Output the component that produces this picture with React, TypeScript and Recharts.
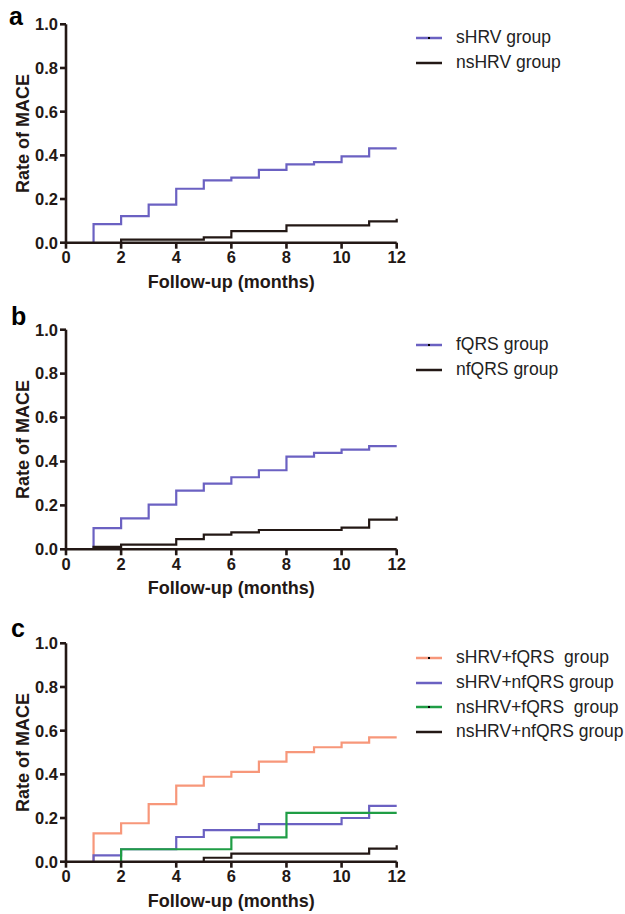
import React from "react";
import { LineChart, Line, XAxis, YAxis, Legend } from "recharts";

// follow-up month of each step (value = cumulative MACE rate from that month on)
const months = [0, 1, 2, 3, 4, 5, 6, 7, 8, 9, 10, 11, 12];

// panel a
const sHRV = [null, 0.085, 0.122, 0.174, 0.247, 0.285, 0.298, 0.333, 0.359, 0.369, 0.395, 0.432, 0.432];
const nsHRV = [null, null, 0.014, 0.014, 0.014, 0.024, 0.053, 0.053, 0.079, 0.079, 0.079, 0.098, 0.11];

// panel b
const fQRS = [null, 0.096, 0.141, 0.203, 0.267, 0.299, 0.328, 0.36, 0.422, 0.439, 0.454, 0.47, 0.47];
const nfQRS = [null, 0.011, 0.021, 0.021, 0.046, 0.067, 0.077, 0.088, 0.088, 0.088, 0.099, 0.135, 0.149];

// panel c
const sHRVfQRS = [null, 0.13, 0.176, 0.264, 0.348, 0.389, 0.411, 0.458, 0.502, 0.524, 0.545, 0.569, 0.569];
const sHRVnfQRS = [null, 0.029, 0.057, 0.057, 0.113, 0.145, 0.145, 0.172, 0.172, 0.172, 0.2, 0.256, 0.256];
const nsHRVfQRS = [null, null, 0.057, 0.057, 0.057, 0.057, 0.111, 0.111, 0.224, 0.224, 0.224, 0.224, 0.224];
const nsHRVnfQRS = [null, null, null, null, null, 0.018, 0.037, 0.037, 0.037, 0.037, 0.037, 0.06, 0.075];

const xTicks = [0, 2, 4, 6, 8, 10, 12];
const yTicks = [0, 0.2, 0.4, 0.6, 0.8, 1.0];

const INK = "#231815";
const PURPLE = "#6b61c2";
const ORANGE = "#f7977a";
const GREEN = "#1f9d45";
const FONT = "Arial, 'Liberation Sans', sans-serif";

// KM-style curve: rises from 0 at the first event month
function toSteps(values: (number | null)[]) {
  const first = values.findIndex((v) => v != null);
  const pts = [{ month: months[first], rate: 0 }];
  for (let i = first; i < months.length; i++) {
    pts.push({ month: months[i], rate: values[i] as number });
  }
  return pts;
}

type Series = { name: string; values: (number | null)[]; color: string; dot: boolean };

const PLOT_LEFT = 66;
const PLOT_RIGHT = 396.7;
const AXIS_H = 48;

function LegendList({ series }: any) {
  const items = series as Series[];
  return (
    <div style={{ fontFamily: FONT, fontSize: 17.5, color: "#222" }}>
      {items.map((s) => (
        <div key={s.name} style={{ display: "flex", alignItems: "center", height: 24.7 }}>
          <svg width={26} height={6} style={{ marginRight: 14 }}>
            <line x1={0} y1={3} x2={26} y2={3} stroke={s.color} strokeWidth={2.5} />
            {s.dot && <rect x={12} y={2} width={2} height={2} fill="#000" />}
          </svg>
          <span style={{ whiteSpace: "pre" }}>{s.name}</span>
        </div>
      ))}
    </div>
  );
}

function Panel({
  letter,
  letterLeft,
  letterTop,
  top,
  height,
  plotTop,
  plotBottom,
  legendTop,
  series,
}: {
  letter: string;
  letterLeft: number;
  letterTop: number;
  top: number;
  height: number;
  plotTop: number;
  plotBottom: number;
  legendTop: number;
  series: Series[];
}) {
  const tick = { fill: INK, fontSize: 16.5, fontWeight: "bold", fontFamily: FONT };
  const plotMid = (plotTop + plotBottom) / 2;
  return (
    <div style={{ position: "absolute", left: 0, top, width: 625, height }}>
      <div
        style={{
          position: "absolute",
          left: letterLeft,
          top: letterTop,
          fontFamily: FONT,
          fontWeight: "bold",
          fontSize: 25,
          lineHeight: "28px",
          color: "#000",
        }}
      >
        {letter}
      </div>
      <LineChart
        width={625}
        height={height}
        margin={{ top: plotTop, right: 625 - PLOT_RIGHT, bottom: height - plotBottom - AXIS_H, left: 20 }}
      >
        <XAxis
          type="number"
          dataKey="month"
          domain={[0, 12]}
          ticks={xTicks}
          height={AXIS_H}
          tickSize={6}
          tickMargin={3}
          axisLine={{ stroke: INK, strokeWidth: 2.6 }}
          tickLine={{ stroke: INK, strokeWidth: 2.6 }}
          tick={tick}
          label={() => (
            <text
              x={(PLOT_LEFT + PLOT_RIGHT) / 2}
              y={plotBottom + 45}
              textAnchor="middle"
              fontFamily={FONT}
              fontWeight="bold"
              fontSize={18}
              fill={INK}
            >
              Follow-up (months)
            </text>
          )}
        />
        <YAxis
          type="number"
          domain={[0, 1]}
          ticks={yTicks}
          width={46}
          tickSize={6}
          tickMargin={2}
          tickFormatter={(v: number) => v.toFixed(1)}
          axisLine={{ stroke: INK, strokeWidth: 2.6 }}
          tickLine={{ stroke: INK, strokeWidth: 2.6 }}
          tick={tick}
          label={() => (
            <text
              x={23}
              y={plotMid}
              transform={`rotate(-90, 23, ${plotMid})`}
              textAnchor="middle"
              dominantBaseline="central"
              fontFamily={FONT}
              fontWeight="bold"
              fontSize={18}
              fill={INK}
            >
              Rate of MACE
            </text>
          )}
        />
        <Legend
          layout="vertical"
          align="center"
          verticalAlign="middle"
          width={210}
          wrapperStyle={{ top: legendTop, left: 416 }}
          content={(props: any) => <LegendList {...props} series={series} />}
        />
        {series.map((s) => (
          <Line
            key={s.name}
            name={s.name}
            data={toSteps(s.values)}
            dataKey="rate"
            type="stepAfter"
            stroke={s.color}
            strokeWidth={2.2}
            dot={false}
            activeDot={false}
            isAnimationActive={false}
          />
        ))}
      </LineChart>
    </div>
  );
}

const panelA: Series[] = [
  { name: "sHRV group", values: sHRV, color: PURPLE, dot: true },
  { name: "nsHRV group", values: nsHRV, color: INK, dot: false },
];
const panelB: Series[] = [
  { name: "fQRS group", values: fQRS, color: PURPLE, dot: true },
  { name: "nfQRS group", values: nfQRS, color: INK, dot: false },
];
const panelC: Series[] = [
  { name: "sHRV+fQRS  group", values: sHRVfQRS, color: ORANGE, dot: true },
  { name: "sHRV+nfQRS group", values: sHRVnfQRS, color: PURPLE, dot: false },
  { name: "nsHRV+fQRS  group", values: nsHRVfQRS, color: GREEN, dot: true },
  { name: "nsHRV+nfQRS group", values: nsHRVnfQRS, color: INK, dot: false },
];

export default function App() {
  return (
    <div style={{ position: "relative", width: 625, height: 914, background: "#fff" }}>
      <style>{`body { margin: 0; }`}</style>
      <Panel letter="a" letterLeft={9} letterTop={2} top={0} height={300} plotTop={24.3} plotBottom={242.7} legendTop={25.5} series={panelA} />
      <Panel letter="b" letterLeft={11} letterTop={2} top={300} height={300} plotTop={29.7} plotBottom={249.3} legendTop={32.5} series={panelB} />
      <Panel letter="c" letterLeft={11} letterTop={14} top={600} height={314} plotTop={43.3} plotBottom={261.7} legendTop={45.5} series={panelC} />
    </div>
  );
}
